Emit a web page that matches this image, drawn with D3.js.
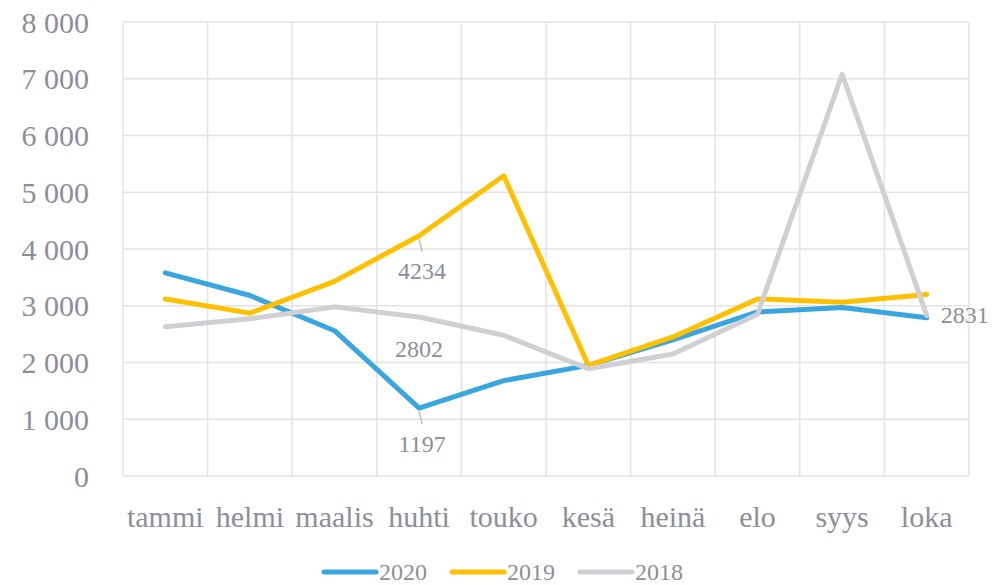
<!DOCTYPE html>
<html>
<head>
<meta charset="utf-8">
<script src="https://cdn.jsdelivr.net/npm/d3@7"></script>
<style>
  body { margin: 0; background: #fff; }
  text { font-family: "Liberation Serif", "DejaVu Serif", serif; fill: #8c8f99; }
</style>
</head>
<body>
<div id="chart"></div>
<script>
// data
var months = ["tammi", "helmi", "maalis", "huhti", "touko", "kesä", "heinä", "elo", "syys", "loka"];
var v2020 = [3580, 3180, 2560, 1197, 1680, 1950, 2400, 2890, 2970, 2790];
var v2019 = [3120, 2870, 3430, 4234, 5290, 1950, 2450, 3120, 3060, 3200];
var v2018 = [2630, 2770, 2980, 2802, 2480, 1890, 2150, 2850, 7080, 2831];
var yTicks = [0, 1000, 2000, 3000, 4000, 5000, 6000, 7000, 8000];

var series = [
  {name: "2020", values: v2020, color: "#3aa6e0"},
  {name: "2019", values: v2019, color: "#ffc000"},
  {name: "2018", values: v2018, color: "#d0d0d4"}
];

var W = 994, H = 585;
var margin = {top: 22, right: 25, bottom: 109, left: 123},
    width = W - margin.left - margin.right,
    height = H - margin.top - margin.bottom;

var svg = d3.select("#chart").append("svg")
    .attr("width", W).attr("height", H);
var g = svg.append("g")
    .attr("transform", "translate(" + margin.left + "," + margin.top + ")");

var x = d3.scaleBand().domain(months).range([0, width]);
var y = d3.scaleLinear().domain([0, 8000]).range([height, 0]);
var fmt = function(d) { return d3.format(",")(d).replace(/,/g, " "); };

// gridlines
g.selectAll(".hgrid").data(yTicks).enter().append("line")
    .attr("x1", 0).attr("x2", width)
    .attr("y1", function(d) { return y(d); }).attr("y2", function(d) { return y(d); })
    .attr("stroke", "#e3e3e3").attr("stroke-width", 1.5);
var bounds = months.map(function(m) { return x(m); }).concat([width]);
g.selectAll(".vgrid").data(bounds).enter().append("line")
    .attr("x1", function(d) { return d; }).attr("x2", function(d) { return d; })
    .attr("y1", 0).attr("y2", height)
    .attr("stroke", "#e3e3e3").attr("stroke-width", 1.5);

// y axis labels
g.selectAll(".ylab").data(yTicks).enter().append("text")
    .attr("x", -34).attr("y", function(d) { return y(d); })
    .attr("dy", "0.35em")
    .attr("text-anchor", "end")
    .style("font-size", "30px")
    .text(fmt);

// x axis labels
g.selectAll(".xlab").data(months).enter().append("text")
    .attr("x", function(d) { return x(d) + x.bandwidth() / 2; })
    .attr("y", height + 51)
    .attr("text-anchor", "middle")
    .style("font-size", "30px")
    .text(function(d) { return d; });

// lines
var line = d3.line()
    .x(function(d, i) { return x(months[i]) + x.bandwidth() / 2; })
    .y(function(d) { return y(d); });

series.forEach(function(s) {
  g.append("path")
      .datum(s.values)
      .attr("d", line)
      .attr("fill", "none")
      .attr("stroke", s.color)
      .attr("stroke-width", 5)
      .attr("stroke-linejoin", "round")
      .attr("stroke-linecap", "round");
});

// data labels
function cx(m) { return x(m) + x.bandwidth() / 2; }
var labels = [
  {m: "huhti", v: v2019[3], dx: 3, dy: 43, leader: true},
  {m: "huhti", v: v2018[3], dx: 0, dy: 40, leader: false},
  {m: "huhti", v: v2020[3], dx: 3, dy: 44, leader: true},
  {m: "loka", v: v2018[9], dx: 14, dy: 8, leader: false, anchor: "start"}
];
labels.forEach(function(l) {
  var px = cx(l.m), py = y(l.v);
  if (l.leader) {
    g.append("line")
        .attr("x1", px).attr("y1", py + 3)
        .attr("x2", px + 3).attr("y2", py + 16)
        .attr("stroke", "#bfbfbf").attr("stroke-width", 1.5);
  }
  g.append("text")
      .attr("x", px + l.dx).attr("y", py + l.dy)
      .attr("text-anchor", l.anchor || "middle")
      .style("font-size", "24px")
      .text(l.v);
});

// legend
var leg = svg.append("g").attr("transform", "translate(322,572)");
series.forEach(function(s, i) {
  var lg = leg.append("g").attr("transform", "translate(" + (i * 128) + ",0)");
  lg.append("line")
      .attr("x1", 2).attr("x2", 54)
      .attr("stroke", s.color).attr("stroke-width", 5)
      .attr("stroke-linecap", "round");
  lg.append("text")
      .attr("x", 57).attr("y", 0).attr("dy", "0.33em")
      .style("font-size", "24px")
      .text(s.name);
});
</script>
</body>
</html>
